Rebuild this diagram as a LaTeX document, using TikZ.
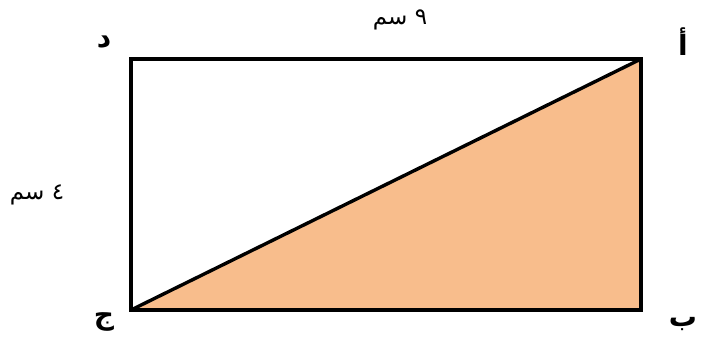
\documentclass[tikz,border=0pt]{standalone}
\usepackage{fontspec}
\TeXXeTstate=1
\newfontfamily\arabicfont[Script=Arabic]{DejaVu Sans}
\definecolor{triorange}{HTML}{F8BD8C}
\begin{document}
\begin{tikzpicture}[x=1pt,y=-1pt,
  edge/.style={line width=4pt,line cap=rect,line join=miter},
  vlabel/.style={font=\arabicfont\bfseries\fontsize{28}{32}\selectfont,inner sep=0pt},
  mlabel/.style={font=\arabicfont\fontsize{23}{27}\selectfont,inner sep=0pt}]
\useasboundingbox (0,0) rectangle (710,351);
\coordinate (A) at (641,59);
\coordinate (B) at (641,310);
\coordinate (C) at (131,310);
\coordinate (D) at (131,59);
\fill[triorange] (A) -- (B) -- (C) -- cycle;
\draw[edge] (A) -- (B) -- (C) -- (D) -- cycle;
\draw[line width=3.4pt] (C) -- (A);
\node[vlabel] (la) at (683,42) {\beginR أ\endR};
\node[vlabel] (ld) at (104,42) {\beginR د\endR};
\node[vlabel] (lb) at (683,324) {\beginR ب\endR};
\node[vlabel] (lc) at (104,322) {\beginR ج\endR};
\node[mlabel] (top) at (400,20) {\beginR ٩ سم\endR};
\node[mlabel] (left) at (37,195) {\beginR ٤ سم\endR};
\end{tikzpicture}
\end{document}
